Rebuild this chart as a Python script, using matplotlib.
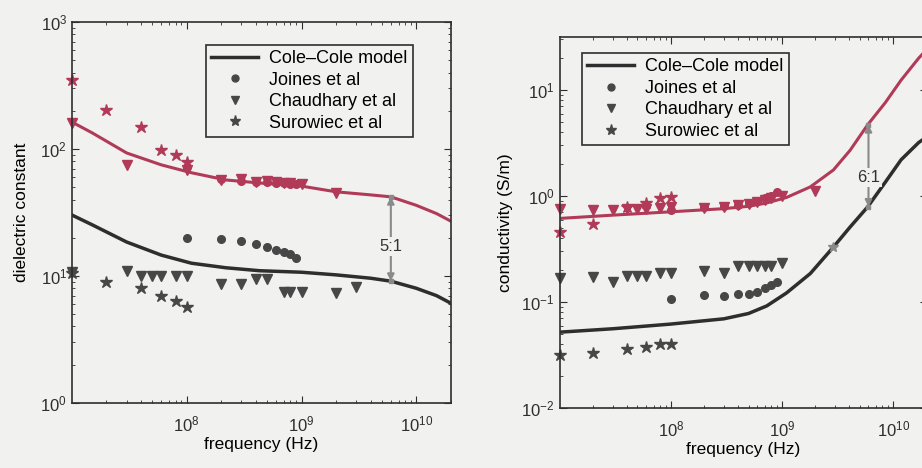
import numpy as np
import matplotlib
matplotlib.use('Agg')
import matplotlib.pyplot as plt
from matplotlib.lines import Line2D

plt.rcParams['font.family'] = ['Liberation Sans', 'DejaVu Sans']
plt.rcParams['mathtext.default'] = 'regular'

RED = '#b03a58'
BLACK = '#2e2e2e'
DARK = '#474747'
GRAY = '#8a8a8a'
BG = '#f1f1ef'

# ---------- dielectric constant (left panel) ----------
eps_f = [1e7, 1.5e7, 3e7, 6e7, 1.1e8, 2.2e8, 4.3e8, 1e9, 2e9, 4e9, 6e9, 1e10, 1.5e10, 2e10]
eps_tumor = [163, 134, 93, 75, 65, 57, 54, 51, 46, 43.5, 42, 36, 31, 27]
eps_normal = [30.2, 25.3, 18.5, 14.6, 12.6, 11.6, 11, 10.7, 10.2, 9.6, 9.1, 8.0, 7.0, 6.1]

joines_f = [1e8, 2e8, 3e8, 4e8, 5e8, 6e8, 7e8, 8e8, 9e8]
joines_eps_n = [20, 19.5, 19, 17.8, 17, 16, 15.5, 14.8, 13.8]
joines_eps_t = [72, 58, 56, 55, 55, 54, 54, 53, 53]

chaud_f = [1e7, 3e7, 4e7, 5e7, 6e7, 8e7, 1e8, 2e8, 3e8, 4e8, 5e8, 7e8, 8e8, 1e9, 2e9, 3e9]
chaud_eps_n = [10.7, 11, 10, 10, 10, 10, 10, 8.7, 8.7, 9.5, 9.5, 7.5, 7.5, 7.5, 7.4, 8.2]
chaud_eps_t_f = [1e7, 3e7, 1e8, 2e8, 3e8, 4e8, 5e8, 6e8, 7e8, 8e8, 1e9, 2e9]
chaud_eps_t = [160, 75, 68, 57, 58, 55, 56, 55, 54, 54, 53, 45]

surow_f = [1e7, 2e7, 4e7, 6e7, 8e7, 1e8]
surow_eps_n = [10.5, 9, 8, 6.9, 6.3, 5.7]
surow_eps_t = [350, 204, 149, 98, 89, 79]

# ---------- conductivity (right panel) ----------
sig_f = [1e7, 3e7, 1e8, 3e8, 5e8, 7.3e8, 1.1e9, 1.8e9, 2.9e9, 4.1e9, 5.9e9,
         8.5e9, 1.18e10, 1.7e10, 2e10]
sig_tumor = [0.615, 0.66, 0.71, 0.76, 0.8, 0.86, 0.97, 1.22, 1.76, 2.7, 4.7,
             7.6, 12.4, 20, 24]
sig_normal = [0.052, 0.056, 0.062, 0.0695, 0.078, 0.092, 0.122, 0.186, 0.33, 0.51, 0.79,
              1.35, 2.2, 3.2, 3.6]

joines_sig_n = [0.107, 0.116, 0.114, 0.12, 0.12, 0.125, 0.135, 0.145, 0.155]
joines_sig_t = [0.74, 0.79, 0.8, 0.83, 0.86, 0.9, 0.95, 1.0, 1.08]

chaud_sig_f = [1e7, 2e7, 3e7, 4e7, 5e7, 6e7, 8e7, 1e8, 2e8, 3e8, 4e8, 5e8, 6e8, 7e8, 8e8, 1e9, 2e9]
chaud_sig_n = [0.17, 0.172, 0.155, 0.175, 0.175, 0.178, 0.187, 0.187, 0.195, 0.19,
               0.219, 0.219, 0.22, 0.22, 0.22, 0.233, None]
chaud_sig_t = [0.75, 0.74, 0.74, 0.75, 0.76, 0.76, 0.77, 0.78, 0.77, 0.79,
               0.82, 0.85, 0.88, 0.92, 0.96, 1.0, 1.12]

surow_sig_n = [0.032, 0.033, 0.036, 0.0375, 0.04, 0.04]
surow_sig_t = [0.46, 0.55, 0.78, 0.86, 0.95, 0.98]

ratio_f = 6e9
eps_ratio = (9.1, 42)
sig_ratio = (0.79, 4.7)


def style_axes(ax):
    ax.set_xscale('log')
    ax.set_yscale('log')
    ax.set_facecolor(BG)
    ax.tick_params(which='both', direction='in', top=True, right=True,
                   labelsize=12, colors=BLACK)
    ax.tick_params(which='major', length=5)
    ax.tick_params(which='minor', length=2.5)
    ax.tick_params(axis='x', pad=8)
    ax.set_xticks([1e8, 1e9, 1e10])
    for s in ax.spines.values():
        s.set_color(BLACK)
        s.set_linewidth(1.2)


def plot_points(ax, f, y, marker, color, ms):
    pts = [(a, b) for a, b in zip(f, y) if b is not None]
    ax.plot([p[0] for p in pts], [p[1] for p in pts], linestyle='none',
            marker=marker, color=color, markeredgecolor=color, ms=ms, clip_on=False)


def ratio_arrow(ax, f, lo, hi, label, ytxt):
    ax.annotate('', xy=(f, lo), xytext=(f, hi),
                arrowprops=dict(arrowstyle='<|-|>', color=GRAY, lw=1.5,
                                mutation_scale=10, shrinkA=0, shrinkB=0))
    ax.plot([f, f], [lo, hi], 's', color=GRAY, ms=3.5)
    ax.text(f, ytxt, label, ha='center', va='center', fontsize=12, color='#333333',
            bbox=dict(facecolor=BG, edgecolor='none', pad=1.5))


def add_legend(ax, anchor, loc):
    handles = [
        Line2D([], [], color=BLACK, lw=2.5),
        Line2D([], [], ls='none', marker='o', color=DARK, ms=5),
        Line2D([], [], ls='none', marker='v', color=DARK, ms=6),
        Line2D([], [], ls='none', marker='*', color=DARK, ms=8),
    ]
    labels = ['Cole\u2013Cole model', 'Joines et al', 'Chaudhary et al', 'Surowiec et al']
    leg = ax.legend(handles, labels, loc=loc, bbox_to_anchor=anchor, fontsize=13,
                    frameon=True, fancybox=False, edgecolor=BLACK, facecolor=BG,
                    framealpha=1, handlelength=2.6, handletextpad=0.6,
                    borderpad=0.3, labelspacing=0.25, borderaxespad=0)
    leg.get_frame().set_linewidth(1.2)


fig = plt.figure(figsize=(9.22, 4.68), dpi=100, facecolor=BG)

# left panel
ax1 = fig.add_axes([0.078, 0.139, 0.411, 0.814])
style_axes(ax1)
ax1.plot(eps_f, eps_tumor, color=RED, lw=2.2)
ax1.plot(eps_f, eps_normal, color=BLACK, lw=2.5)
plot_points(ax1, joines_f, joines_eps_t, 'o', RED, 5.5)
plot_points(ax1, chaud_eps_t_f, chaud_eps_t, 'v', RED, 6.5)
plot_points(ax1, surow_f, surow_eps_t, '*', RED, 9)
plot_points(ax1, joines_f, joines_eps_n, 'o', DARK, 5.5)
plot_points(ax1, chaud_f, chaud_eps_n, 'v', DARK, 6.5)
plot_points(ax1, surow_f, surow_eps_n, '*', DARK, 9)
ratio_arrow(ax1, ratio_f, eps_ratio[0], eps_ratio[1], '5:1', 17)
ax1.set_xlim(1e7, 2e10)
ax1.set_ylim(1, 1e3)
ax1.set_xlabel('frequency (Hz)', fontsize=12.5, labelpad=2)
ax1.set_ylabel('dielectric constant', fontsize=12.5, labelpad=8)
add_legend(ax1, (0.90, 0.94), 'upper right')

# right panel
ax2 = fig.add_axes([0.607, 0.128, 0.398, 0.793])
style_axes(ax2)
ax2.plot(sig_f, sig_tumor, color=RED, lw=2.2)
ax2.plot(sig_f, sig_normal, color=BLACK, lw=2.5)
plot_points(ax2, joines_f, joines_sig_t, 'o', RED, 5.5)
plot_points(ax2, chaud_sig_f, chaud_sig_t, 'v', RED, 6.5)
plot_points(ax2, surow_f, surow_sig_t, '*', RED, 9)
plot_points(ax2, joines_f, joines_sig_n, 'o', DARK, 5.5)
plot_points(ax2, chaud_sig_f, chaud_sig_n, 'v', DARK, 6.5)
plot_points(ax2, surow_f, surow_sig_n, '*', DARK, 9)
plot_points(ax2, [2.9e9], [0.33], '*', GRAY, 7)
ratio_arrow(ax2, ratio_f, sig_ratio[0], sig_ratio[1], '6:1', 1.5)
ax2.set_xlim(1e7, 2e10)
ax2.set_ylim(1e-2, 10 ** 1.5)
ax2.set_yticks([1e-2, 1e-1, 1e0, 1e1])
ax2.set_xlabel('frequency (Hz)', fontsize=12.5, labelpad=2)
ax2.set_ylabel('conductivity (S/m)', fontsize=12.5, labelpad=6)
add_legend(ax2, (0.06, 0.957), 'upper left')

fig.savefig('out.png', dpi=100, facecolor=BG)
